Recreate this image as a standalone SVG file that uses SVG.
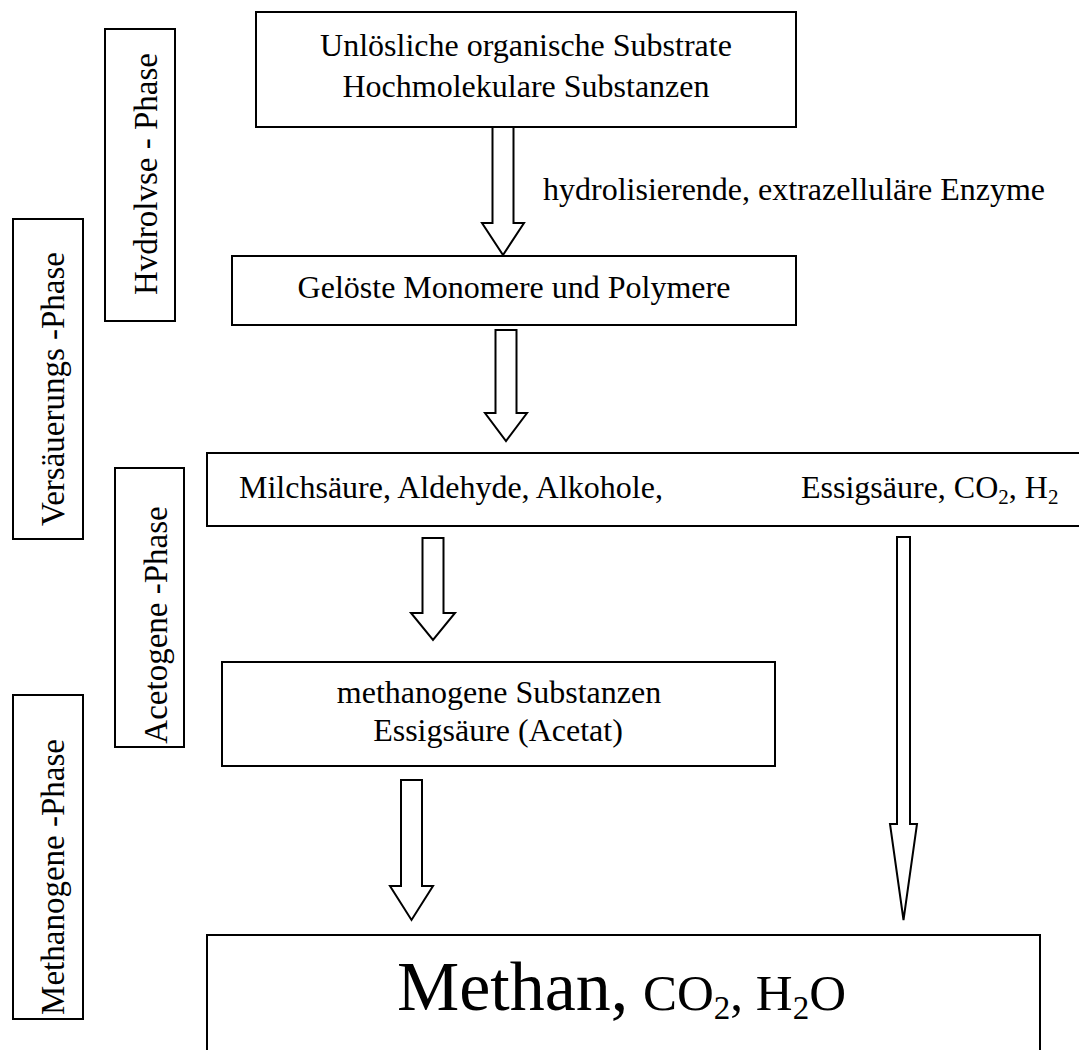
<svg xmlns="http://www.w3.org/2000/svg" width="1079" height="1050" viewBox="0 0 1079 1050">
<style>
.box{fill:#fff;stroke:#000;stroke-width:2}
.arr{fill:#fff;stroke:#000;stroke-width:2;stroke-linejoin:miter}
text{font-family:"Liberation Serif","Times New Roman",serif;fill:#000}
.t{font-size:32px}
.v{font-size:33px;text-anchor:middle}
.c{text-anchor:middle}
.sub{font-size:21px}
</style>
<rect width="1079" height="1050" fill="#fff"/>

<g id="phase-hydrolyse">
<rect class="box" x="105" y="29" width="70" height="292"/>
<text class="v" transform="translate(157,174) rotate(-90)">Hvdrolvse - Phase</text>
</g>
<g id="phase-versaeuerung">
<rect class="box" x="13" y="219" width="70" height="320"/>
<text class="v" transform="translate(64,389) rotate(-90)">Versäuerungs -Phase</text>
</g>
<g id="phase-acetogene">
<rect class="box" x="115" y="468" width="69" height="279"/>
<text class="v" transform="translate(167,625) rotate(-90)">Acetogene -Phase</text>
</g>
<g id="phase-methanogene">
<rect class="box" x="13" y="695" width="70" height="324"/>
<text class="v" transform="translate(64,877) rotate(-90)">Methanogene -Phase</text>
</g>

<g id="node-substrate">
<rect class="box" x="256" y="12" width="540" height="115"/>
<text class="t c" x="526" y="56">Unlösliche organische Substrate</text>
<text class="t c" x="526" y="97">Hochmolekulare Substanzen</text>
</g>
<g id="node-geloeste">
<rect class="box" x="232" y="256" width="564" height="69"/>
<text class="t c" x="514" y="298">Gelöste Monomere und Polymere</text>
</g>
<g id="node-saeuren">
<rect class="box" x="207" y="453" width="890" height="73"/>
<text class="t" x="239" y="498">Milchsäure, Aldehyde, Alkohole,</text>
<text class="t" x="801" y="498">Essigsäure, CO<tspan class="sub" dy="6">2</tspan><tspan dy="-6">, H</tspan><tspan class="sub" dy="6">2</tspan></text>
</g>
<g id="node-acetat">
<rect class="box" x="222" y="662" width="553" height="104"/>
<text class="t c" x="499" y="703">methanogene Substanzen</text>
<text class="t c" x="498" y="741">Essigsäure (Acetat)</text>
</g>
<g id="node-methan">
<rect class="box" x="207" y="935" width="833" height="140"/>
<text x="397" y="1010"><tspan style="font-size:70px">Methan,</tspan><tspan x="643" style="font-size:51px">CO</tspan><tspan dy="9" style="font-size:33px">2</tspan><tspan dy="-9" style="font-size:51px">, H</tspan><tspan dy="9" style="font-size:33px">2</tspan><tspan dy="-9" style="font-size:51px">O</tspan></text>
</g>

<g id="connectors">
<polygon class="arr" points="492.5,127 513.5,127 513.5,223 524,223 503,255 482,223 492.5,223"/>
<text class="t" x="543" y="200">hydrolisierende, extrazelluläre Enzyme</text>
<polygon class="arr" points="495.5,330 516.5,330 516.5,413 527,413 506,441 485,413 495.5,413"/>
<polygon class="arr" points="422.5,538 443.5,538 443.5,613 455,613 433,640 411,613 422.5,613"/>
<polygon class="arr" points="401,780 422,780 422,886 433,886 411.5,920 390,886 401,886"/>
<polygon class="arr" points="897,537 910,537 910,824 917,824 903.5,920 890,824 897,824"/>
</g>
</svg>
